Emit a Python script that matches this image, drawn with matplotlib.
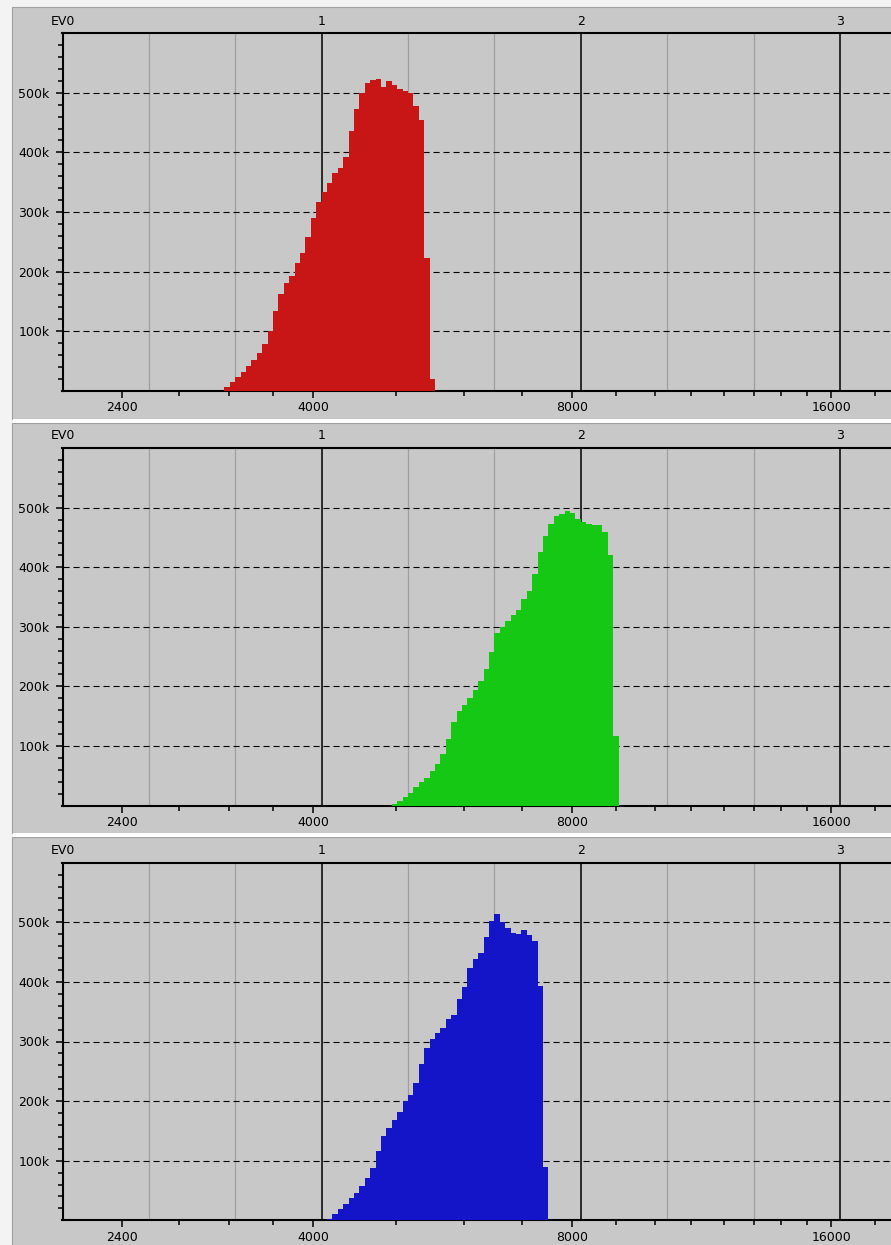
import numpy as np
import matplotlib.pyplot as plt
from matplotlib.patches import Rectangle
from matplotlib.ticker import NullFormatter

plt.rcParams['font.family'] = ['DejaVu Sans']
plt.rcParams['font.size'] = 9

# histogram bins are 1/48 EV wide, EV0 = 2048
EV0 = 2048
BINS_PER_EV = 48

red_first_bin = 30
red_counts = [6e3, 14e3, 23e3, 31e3, 41e3, 52e3, 63e3, 79e3, 101e3, 134e3,
              163e3, 181e3, 192e3, 215e3, 231e3, 258e3, 290e3, 317e3, 333e3, 348e3,
              365e3, 374e3, 392e3, 436e3, 473e3, 500e3, 516e3, 521e3, 523e3, 509e3,
              519e3, 513e3, 506e3, 503e3, 500e3, 478e3, 455e3, 223e3, 20e3]

green_first_bin = 61
green_counts = [2e3, 8e3, 15e3, 21e3, 31e3, 39e3, 46e3, 58e3, 69e3, 87e3,
                112e3, 141e3, 159e3, 168e3, 180e3, 194e3, 209e3, 229e3, 257e3, 289e3,
                300e3, 309e3, 320e3, 329e3, 346e3, 360e3, 388e3, 425e3, 452e3, 472e3,
                486e3, 489e3, 494e3, 491e3, 481e3, 476e3, 473e3, 471e3, 470e3, 459e3,
                420e3, 116e3]

blue_first_bin = 49
blue_counts = [3e3, 10e3, 19e3, 28e3, 37e3, 46e3, 57e3, 71e3, 88e3, 117e3,
               141e3, 155e3, 168e3, 181e3, 200e3, 210e3, 231e3, 263e3, 289e3, 305e3,
               314e3, 322e3, 337e3, 344e3, 371e3, 392e3, 424e3, 438e3, 449e3, 476e3,
               503e3, 514e3, 500e3, 491e3, 482e3, 481e3, 487e3, 478e3, 469e3, 393e3,
               90e3]

channels = [(red_first_bin, red_counts, '#c81515'),
            (green_first_bin, green_counts, '#14c814'),
            (blue_first_bin, blue_counts, '#1414c8')]

x_major = [2400, 4000, 8000, 16000]
x_minor = [2800, 3200, 3600, 5000, 6000, 7000, 9000, 10000, 11000, 12000,
           13000, 14000, 15000, 18000]
ev_labels = ['EV0', '1', '2', '3']
y_major = [100e3, 200e3, 300e3, 400e3, 500e3]
y_labels = ['100k', '200k', '300k', '400k', '500k']

W, H = 891, 1245
BG = '#c8c8c8'

fig = plt.figure(figsize=(W / 100, H / 100), dpi=100)
fig.patch.set_facecolor('#f3f3f3')

def fig_rect(x0, y0, x1, y1, **kw):
    # rectangle given in pixel coords (origin top-left)
    r = Rectangle((x0 / W, 1 - y1 / H), (x1 - x0) / W, (y1 - y0) / H,
                  transform=fig.transFigure, **kw)
    fig.add_artist(r)

# panel frames and white separators
panel_spans = [(7, 419.3), (423.3, 833.3), (837.3, 1250)]
for y0, y1 in panel_spans:
    fig_rect(12, y0, 900, y1, facecolor=BG, edgecolor='#a0a0a0', lw=0.8, zorder=0)
fig_rect(12.5, 419.3, 900, 423.3, facecolor='white', edgecolor='none', zorder=0)
fig_rect(12.5, 833.3, 900, 837.3, facecolor='white', edgecolor='none', zorder=0)

ax_left = 62.5
stop_px = 259.2
x_max = EV0 * 2 ** ((W - ax_left) / stop_px)
ax_h = 357.6
ax_tops = [33.2, 448.0, 862.7]

for (first_bin, counts, color), top in zip(channels, ax_tops):
    ax = fig.add_axes([ax_left / W, 1 - (top + ax_h) / H, (W - ax_left) / W, ax_h / H])
    ax.set_facecolor(BG)
    ax.set_xscale('log', base=2)
    ax.set_xlim(EV0, x_max)
    ax.set_ylim(0, 600e3)

    # third-stop guides and full-stop lines
    for k in range(1, 10):
        x = EV0 * 2 ** (k / 3)
        if k % 3 == 0:
            ax.axvline(x, color='black', lw=1.1, zorder=1)
        else:
            ax.axvline(x, color='#a0a0a0', lw=0.9, zorder=1)
    for y in y_major:
        ax.axhline(y, color='black', lw=0.8, ls=(0, (5.5, 3.5)), zorder=1)

    edges = EV0 * 2 ** (np.arange(first_bin, first_bin + len(counts) + 1) / BINS_PER_EV)
    ax.stairs(counts, edges, fill=True, color=color, lw=0, zorder=3)

    ax.set_xticks(x_major, labels=[str(v) for v in x_major])
    ax.set_xticks(x_minor, minor=True)
    ax.xaxis.set_minor_formatter(NullFormatter())
    ax.set_yticks(y_major, labels=y_labels)
    ax.set_yticks([v for v in np.arange(20e3, 600e3, 20e3) if v not in y_major], minor=True)

    ax.tick_params(axis='both', which='major', length=5, width=1.1, color='black', pad=2.5)
    ax.tick_params(axis='both', which='minor', length=3.5, width=1.1, color='black')
    ax.tick_params(axis='y', which='major', pad=4.5)

    for side in ('left', 'bottom', 'top'):
        ax.spines[side].set_linewidth(1.5)
        ax.spines[side].set_color('black')
    ax.spines['right'].set_visible(False)

    sec = ax.secondary_xaxis('top')
    sec.set_xticks([EV0 * 2 ** n for n in range(4)], labels=ev_labels)
    sec.xaxis.set_minor_formatter(NullFormatter())
    sec.tick_params(which='both', length=0, pad=4)
    sec.spines['top'].set_visible(False)

fig.savefig('out.png', dpi=100, facecolor=fig.get_facecolor())
